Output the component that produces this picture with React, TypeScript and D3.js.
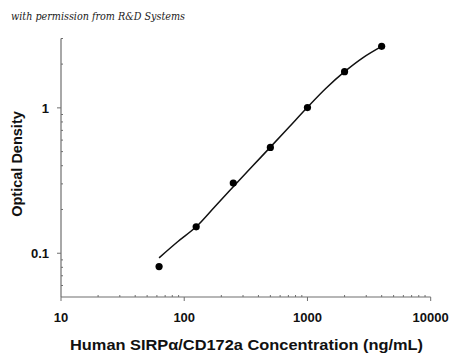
import React from "react";
import * as d3 from "d3";

const concentrations = [62.5, 125, 250, 500, 1000, 2000, 4000];
const odValues = [0.081, 0.152, 0.304, 0.534, 1.005, 1.775, 2.65];
const curveConc = [62.5, 88.4, 125, 177, 250, 354, 500, 707, 1000, 1414, 2000, 2828, 4000];
const curveOd = [0.093, 0.12, 0.152, 0.209, 0.287, 0.393, 0.537, 0.736, 1.01, 1.365, 1.775, 2.22, 2.65];
const xTickLabels = [10, 100, 1000, 10000];
const yTickLabels = [0.1, 1];

const W = 450;
const H = 355;
const axisColor = "#6e6e6e";

export default function App() {
  const x = d3.scaleLog().domain([10, 10000]).range([61, 430.7]);
  const y = d3.scaleLog().domain([0.05, 3]).range([297, 38.5]);

  const xMinor: number[] = [];
  for (const dec of [10, 100, 1000]) for (let k = 2; k <= 9; k++) xMinor.push(dec * k);
  const yMinor: number[] = [0.06, 0.07, 0.08, 0.09, 0.2, 0.3, 0.4, 0.5, 0.6, 0.7, 0.8, 0.9, 2, 3];

  const line = d3
    .line<number>()
    .x((_, i) => x(curveConc[i]))
    .y((d) => y(d))
    .curve(d3.curveCatmullRom.alpha(0.5));

  const x0 = x(10);
  const yBase = y(0.05);
  const fontSans = "'Liberation Sans', Arial, sans-serif";

  return (
    <svg width={W} height={H} style={{ position: "absolute", left: 0, top: 0, background: "#fff" }}>
      <text
        x={11}
        y={19.5}
        fontFamily="'DejaVu Serif', 'Liberation Serif', serif"
        fontStyle="italic"
        fontSize={11.5}
        fill="#222"
        textLength={174}
        lengthAdjust="spacingAndGlyphs"
      >
        with permission from R&amp;D Systems
      </text>

      {/* axes lines */}
      <line x1={x0} x2={x0} y1={y(3)} y2={yBase} stroke={axisColor} strokeWidth={1.2} />
      <line x1={x0} x2={x(10000)} y1={yBase} y2={yBase} stroke={axisColor} strokeWidth={1.2} />

      {/* x ticks */}
      {xTickLabels.map((v) => (
        <g key={"xt" + v}>
          <line x1={x(v)} x2={x(v)} y1={yBase} y2={yBase + 4} stroke={axisColor} strokeWidth={1} />
          <text
            x={x(v)}
            y={322}
            textAnchor="middle"
            fontFamily={fontSans}
            fontWeight="bold"
            fontSize={13}
            fill="#111"
          >
            {v}
          </text>
        </g>
      ))}
      {xMinor.map((v) => (
        <line key={"xm" + v} x1={x(v)} x2={x(v)} y1={yBase - 2} y2={yBase} stroke={axisColor} strokeWidth={1} />
      ))}

      {/* y ticks */}
      {yTickLabels.map((v) => (
        <g key={"yt" + v}>
          <line x1={x0 - 4} x2={x0} y1={y(v)} y2={y(v)} stroke={axisColor} strokeWidth={1} />
          <text
            x={49}
            y={y(v) + 4.7}
            textAnchor="end"
            fontFamily={fontSans}
            fontWeight="bold"
            fontSize={13}
            fill="#111"
          >
            {v}
          </text>
        </g>
      ))}
      {yMinor.map((v) => (
        <line key={"ym" + v} x1={x0} x2={x0 + 2} y1={y(v)} y2={y(v)} stroke={axisColor} strokeWidth={1} />
      ))}

      {/* axis titles */}
      <text
        x={246.5}
        y={349.5}
        textAnchor="middle"
        fontFamily={fontSans}
        fontWeight="bold"
        fontSize={15}
        fill="#111"
        textLength={353}
        lengthAdjust="spacingAndGlyphs"
      >
        Human SIRPα/CD172a Concentration (ng/mL)
      </text>
      <text
        transform={`translate(22, 164) rotate(-90)`}
        textAnchor="middle"
        fontFamily={fontSans}
        fontWeight="bold"
        fontSize={14.5}
        fill="#111"
      >
        Optical Density
      </text>

      {/* fitted curve */}
      <path d={line(curveOd) || ""} fill="none" stroke="#111" strokeWidth={1.5} />

      {/* points */}
      {concentrations.map((c, i) => (
        <circle key={"p" + c} cx={x(c)} cy={y(odValues[i])} r={3.6} fill="#000" />
      ))}
    </svg>
  );
}
